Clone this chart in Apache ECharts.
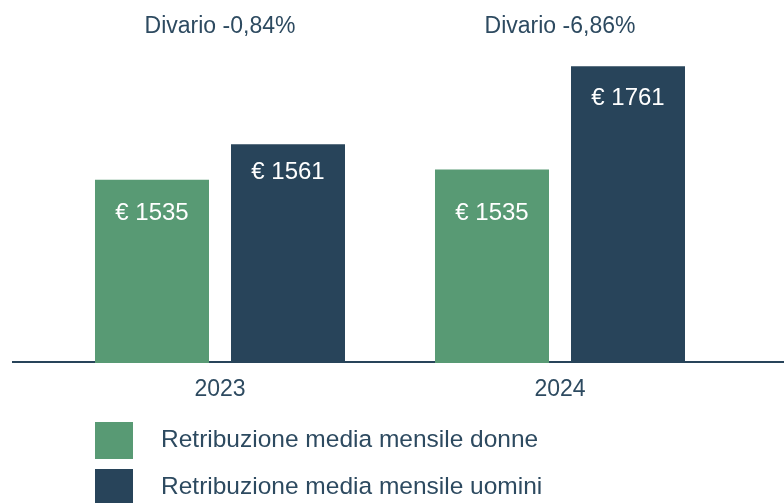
<!DOCTYPE html>
<html>
<head>
<meta charset="utf-8">
<script src="https://cdn.jsdelivr.net/npm/echarts@6/dist/echarts.min.js"></script>
<style>
  html, body { margin: 0; padding: 0; background: #fff; }
  #chart { width: 784px; height: 503px; }
</style>
</head>
<body>
<div id="chart"></div>
<script>
// data
const years = ['2023', '2024']
const divario = ['Divario -0,84%', 'Divario -6,86%']
const seriesNames = ['Retribuzione media mensile donne', 'Retribuzione media mensile uomini']
// printed values in the bars
const labelDonne = [1535, 1535]
const labelUomini = [1561, 1761]
// bar heights as drawn (the donne bars are not drawn at the printed value)
const valDonne = [1470, 1496]
const valUomini = [1561, 1761]
// where the printed value sits below the bar top
const labelGapDonne = [22, 32]
const labelGapUomini = [16, 20]

const green = '#589a74'
const navy = '#28445a'
const textColor = '#2d4a60'
const font = 'Liberation Sans'

const chart = echarts.init(document.getElementById('chart'), null, { renderer: 'canvas' })

function barData(values, labels, gaps) {
    return values.map((v, i) => ({
        value: v,
        label: {
            show: true,
            position: 'insideTop',
            distance: gaps[i],
            color: '#fff',
            fontFamily: font,
            fontSize: 24,
            formatter: '€ ' + labels[i]
        }
    }))
}

chart.setOption({
    animation: false,
    grid: { left: 50, right: 54, top: 51, bottom: 140 },
    legend: {
        orient: 'vertical',
        left: 95,
        top: 422,
        height: 120,
        itemWidth: 38,
        itemHeight: 37,
        itemGap: 10,
        icon: 'rect',
        padding: 0,
        textStyle: { color: textColor, fontFamily: font, fontSize: 24.5, padding: [2, 0, 0, 23] },
        data: seriesNames
    },
    xAxis: [{
        type: 'category',
        data: years,
        axisLine: { show: false },
        axisTick: { show: false },
        axisLabel: { color: textColor, fontFamily: font, fontSize: 23, margin: 15 }
    }, {
        type: 'category',
        position: 'top',
        data: divario,
        axisLine: { show: false },
        axisTick: { show: false },
        axisLabel: { color: textColor, fontFamily: font, fontSize: 23, margin: 13 }
    }],
    yAxis: {
        type: 'value',
        min: 1000,
        max: 1800,
        show: false,
        splitLine: { show: false }
    },
    series: [{
        name: seriesNames[0],
        type: 'bar',
        data: barData(valDonne, labelDonne, labelGapDonne),
        barWidth: 114,
        barGap: '19.3%',
        itemStyle: { color: green }
    }, {
        name: seriesNames[1],
        type: 'bar',
        data: barData(valUomini, labelUomini, labelGapUomini),
        barWidth: 114,
        barGap: '19.3%',
        itemStyle: { color: navy }
    }],
    graphic: [{
        type: 'line',
        z: -1,
        shape: { x1: 12, y1: 362, x2: 784, y2: 362 },
        style: { stroke: navy, lineWidth: 2 }
    }]
})
</script>
</body>
</html>
